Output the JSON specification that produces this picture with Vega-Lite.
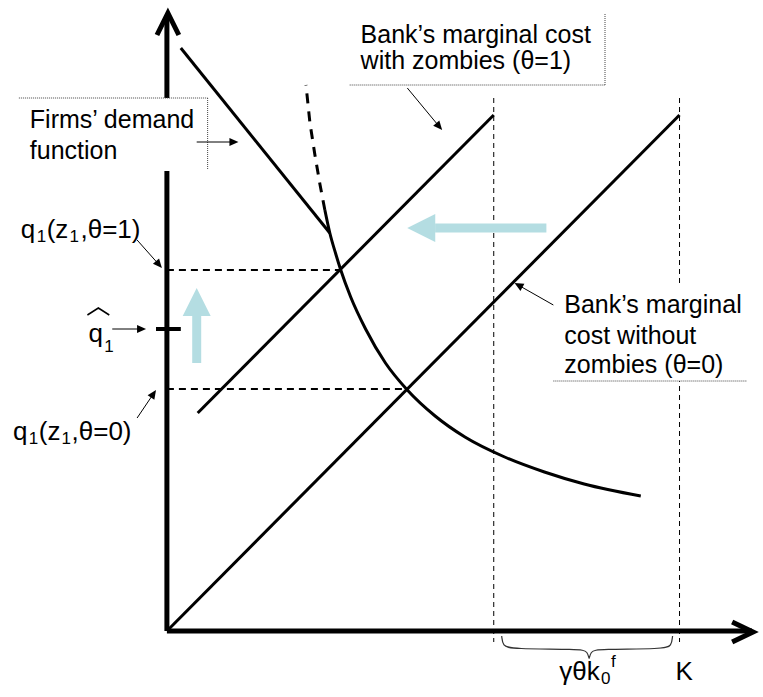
{
  "$schema": "https://vega.github.io/schema/vega-lite/v6.json",
  "width": 763,
  "height": 697,
  "autosize": {"type": "fit", "contains": "padding"},
  "padding": 0,
  "background": "white",
  "config": {"view": {"stroke": null}},
  "datasets": {
    "dashv": [{"x": 329, "y": 533, "x2": 329, "y2": -11}, {"x": 516, "y": 533, "x2": 516, "y2": -11}],
    "dashh": [{"x": 0, "y": 361, "x2": 175, "y2": 361}, {"x": 0, "y": 242, "x2": 242, "y2": 242}],
    "axes": [{"x": 0, "y": 0, "x2": 0, "y2": 616}, {"x": 0, "y": 0, "x2": 589, "y2": 0}],
    "solid": [{"x": 31, "y": 218, "x2": 329, "y2": 516}, {"x": 0, "y": 0, "x2": 516, "y2": 516}, {"x": 14, "y": 583, "x2": 164, "y2": 398}],
    "tick": [{"x": -11, "y": 302, "x2": 14, "y2": 302}],
    "curve": [{"x": 159, "y": 421}, {"x": 164, "y": 398}, {"x": 170, "y": 377}, {"x": 175, "y": 361}, {"x": 185, "y": 334}, {"x": 200, "y": 302}, {"x": 220, "y": 268}, {"x": 242, "y": 241}, {"x": 270, "y": 215}, {"x": 300, "y": 194}, {"x": 340, "y": 174}, {"x": 380, "y": 159}, {"x": 420, "y": 147}, {"x": 477, "y": 135}],
    "curvedash": [{"x": 159, "y": 421}, {"x": 154, "y": 447}, {"x": 149, "y": 476}, {"x": 144, "y": 508}, {"x": 140, "y": 546}],
    "boxfill": [{"x": -149, "y": 460, "x2": 41, "y2": 533}, {"x": 389, "y": 250, "x2": 595, "y2": 348}],
    "boxborder": [{"x": -149, "y": 533, "x2": 41, "y2": 533}, {"x": 41, "y": 533, "x2": 41, "y2": 461}, {"x": 184, "y": 546, "x2": 441, "y2": 546}, {"x": 441, "y": 546, "x2": 441, "y2": 618}, {"x": 389, "y": 250, "x2": 584, "y2": 250}],
    "shafts": [{"x": 30, "y": 489, "x2": 67.5, "y2": 489}, {"x": 242, "y": 543, "x2": 274.1, "y2": 504.5}, {"x": -30, "y": 391, "x2": -8, "y2": 366.4}, {"x": -55, "y": 302, "x2": -25.5, "y2": 302}, {"x": -30, "y": 213, "x2": -13.5, "y2": 237.3}, {"x": 389, "y": 326, "x2": 353.9, "y2": 345.8}],
    "headR": [{"x": 67.5, "y": 489}, {"x": -25.5, "y": 302}],
    "headDR": [{"x": 274.1, "y": 504.5}, {"x": -8, "y": 366.4}],
    "headUR": [{"x": -13.5, "y": 237.3}],
    "headUL": [{"x": 353.9, "y": 345.8}],
    "blueshaft": [{"x": 30, "y": 268, "x2": 30, "y2": 316}, {"x": 270, "y": 403, "x2": 382, "y2": 403}],
    "blueUp": [{"x": 30, "y": 329}],
    "blueLeft": [{"x": 256, "y": 403}],
    "chevrons": [{"g": "y", "o": 1, "x": -10, "y": 596}, {"g": "y", "o": 2, "x": 1, "y": 618}, {"g": "y", "o": 3, "x": 12, "y": 596}, {"g": "x", "o": 1, "x": 569, "y": 9}, {"g": "x", "o": 2, "x": 590, "y": -1}, {"g": "x", "o": 3, "x": 569, "y": -11}],
    "hat": [{"o": 1, "x": -80, "y": 316}, {"o": 2, "x": -69, "y": 323}, {"o": 3, "x": -58, "y": 316}],
    "brace": [{"o": 1, "x": 337, "y": -5}, {"o": 2, "x": 338, "y": -15}, {"o": 3, "x": 347, "y": -18}, {"o": 4, "x": 415, "y": -18}, {"o": 5, "x": 424, "y": -20}, {"o": 6, "x": 425, "y": -31}, {"o": 7, "x": 426, "y": -20}, {"o": 8, "x": 435, "y": -18}, {"o": 9, "x": 500, "y": -18}, {"o": 10, "x": 508, "y": -15}, {"o": 11, "x": 509, "y": -5}],
    "boxtexts": [
      {"t": "Firms’ demand", "x": -138, "y": 503},
      {"t": "function", "x": -138, "y": 472},
      {"t": "Bank’s marginal cost", "x": 195, "y": 588},
      {"t": "with zombies (θ=1)", "x": 195, "y": 562},
      {"t": "Bank’s marginal", "x": 400, "y": 318},
      {"t": "cost without", "x": 400, "y": 287},
      {"t": "zombies (θ=0)", "x": 400, "y": 258}
    ],
    "labels": [
      {"t": "q", "x": -147, "y": 393},
      {"t": "(z", "x": -121, "y": 393},
      {"t": ",θ=1)", "x": -87, "y": 393},
      {"t": "q", "x": -155, "y": 191},
      {"t": "(z", "x": -129, "y": 191},
      {"t": ",θ=0)", "x": -96, "y": 191},
      {"t": "q", "x": -79, "y": 289},
      {"t": "γθk", "x": 395, "y": -49},
      {"t": "K", "x": 512, "y": -49}
    ],
    "subs": [
      {"t": "1", "x": -131, "y": 389},
      {"t": "1", "x": -98, "y": 389},
      {"t": "1", "x": -139, "y": 187},
      {"t": "1", "x": -106, "y": 187},
      {"t": "1", "x": -63, "y": 279},
      {"t": "0", "x": 437, "y": -53},
      {"t": "f", "x": 447, "y": -36}
    ]
  },
  "encoding": {
    "x": {"field": "x", "type": "quantitative", "scale": {"domain": [-168, 595], "nice": false, "zero": false}, "axis": null},
    "y": {"field": "y", "type": "quantitative", "scale": {"domain": [-66, 631], "nice": false, "zero": false}, "axis": null}
  },
  "layer": [
    {"data": {"name": "dashv"}, "mark": {"type": "rule", "color": "black", "strokeWidth": 1, "strokeDash": [5, 4]},
     "encoding": {"x2": {"field": "x2"}, "y2": {"field": "y2"}}},
    {"data": {"name": "dashh"}, "mark": {"type": "rule", "color": "black", "strokeWidth": 2, "strokeDash": [7, 5]},
     "encoding": {"x2": {"field": "x2"}, "y2": {"field": "y2"}}},
    {"data": {"name": "axes"}, "mark": {"type": "rule", "color": "black", "strokeWidth": 5},
     "encoding": {"x2": {"field": "x2"}, "y2": {"field": "y2"}}},
    {"data": {"name": "solid"}, "mark": {"type": "rule", "color": "black", "strokeWidth": 3},
     "encoding": {"x2": {"field": "x2"}, "y2": {"field": "y2"}}},
    {"data": {"name": "tick"}, "mark": {"type": "rule", "color": "black", "strokeWidth": 4},
     "encoding": {"x2": {"field": "x2"}, "y2": {"field": "y2"}}},
    {"data": {"name": "curve"}, "mark": {"type": "line", "color": "black", "strokeWidth": 3, "interpolate": "monotone"},
     "encoding": {}},
    {"data": {"name": "curvedash"}, "mark": {"type": "line", "color": "black", "strokeWidth": 3, "strokeDash": [10, 8]},
     "encoding": {"order": {"field": "y", "type": "quantitative"}}},
    {"data": {"name": "boxfill"}, "mark": {"type": "rect", "color": "white"},
     "encoding": {"x2": {"field": "x2"}, "y2": {"field": "y2"}}},
    {"data": {"name": "boxborder"}, "mark": {"type": "rule", "color": "#444", "strokeWidth": 1, "strokeDash": [1, 1]},
     "encoding": {"x2": {"field": "x2"}, "y2": {"field": "y2"}}},
    {"data": {"name": "boxtexts"}, "mark": {"type": "text", "font": "Liberation Sans", "fontSize": 25, "align": "left", "baseline": "alphabetic", "color": "black"},
     "encoding": {"text": {"field": "t"}}},
    {"data": {"name": "labels"}, "mark": {"type": "text", "font": "Liberation Sans", "fontSize": 26, "align": "left", "baseline": "alphabetic", "color": "black"},
     "encoding": {"text": {"field": "t"}}},
    {"data": {"name": "subs"}, "mark": {"type": "text", "font": "Liberation Sans", "fontSize": 17, "align": "left", "baseline": "alphabetic", "color": "black"},
     "encoding": {"text": {"field": "t"}}},
    {"data": {"name": "hat"}, "mark": {"type": "line", "color": "black", "strokeWidth": 1.5},
     "encoding": {"order": {"field": "o"}}},
    {"data": {"name": "shafts"}, "mark": {"type": "rule", "color": "black", "strokeWidth": 1},
     "encoding": {"x2": {"field": "x2"}, "y2": {"field": "y2"}}},
    {"data": {"name": "headR"}, "mark": {"type": "point", "shape": "M0,-1L0.9,1L-0.9,1Z", "size": 81, "filled": true, "color": "black", "opacity": 1, "angle": 90}, "encoding": {}},
    {"data": {"name": "headDR"}, "mark": {"type": "point", "shape": "M0,-1L0.9,1L-0.9,1Z", "size": 81, "filled": true, "color": "black", "opacity": 1, "angle": 139}, "encoding": {}},
    {"data": {"name": "headUR"}, "mark": {"type": "point", "shape": "M0,-1L0.9,1L-0.9,1Z", "size": 81, "filled": true, "color": "black", "opacity": 1, "angle": 34}, "encoding": {}},
    {"data": {"name": "headUL"}, "mark": {"type": "point", "shape": "M0,-1L0.9,1L-0.9,1Z", "size": 81, "filled": true, "color": "black", "opacity": 1, "angle": -61}, "encoding": {}},
    {"data": {"name": "blueshaft"}, "mark": {"type": "rule", "color": "#b4dde2", "strokeWidth": 9},
     "encoding": {"x2": {"field": "x2"}, "y2": {"field": "y2"}}},
    {"data": {"name": "blueUp"}, "mark": {"type": "point", "shape": "M0,-1L1,1L-1,1Z", "size": 784, "filled": true, "color": "#b4dde2", "opacity": 1, "angle": 0}, "encoding": {}},
    {"data": {"name": "blueLeft"}, "mark": {"type": "point", "shape": "M0,-1L1,1L-1,1Z", "size": 784, "filled": true, "color": "#b4dde2", "opacity": 1, "angle": -90}, "encoding": {}},
    {"data": {"name": "chevrons"}, "mark": {"type": "line", "color": "black", "strokeWidth": 5, "strokeJoin": "miter"},
     "encoding": {"detail": {"field": "g"}, "order": {"field": "o"}}},
    {"data": {"name": "brace"}, "mark": {"type": "line", "color": "#333", "strokeWidth": 1.2, "interpolate": "basis"},
     "encoding": {"order": {"field": "o"}}}
  ]
}
